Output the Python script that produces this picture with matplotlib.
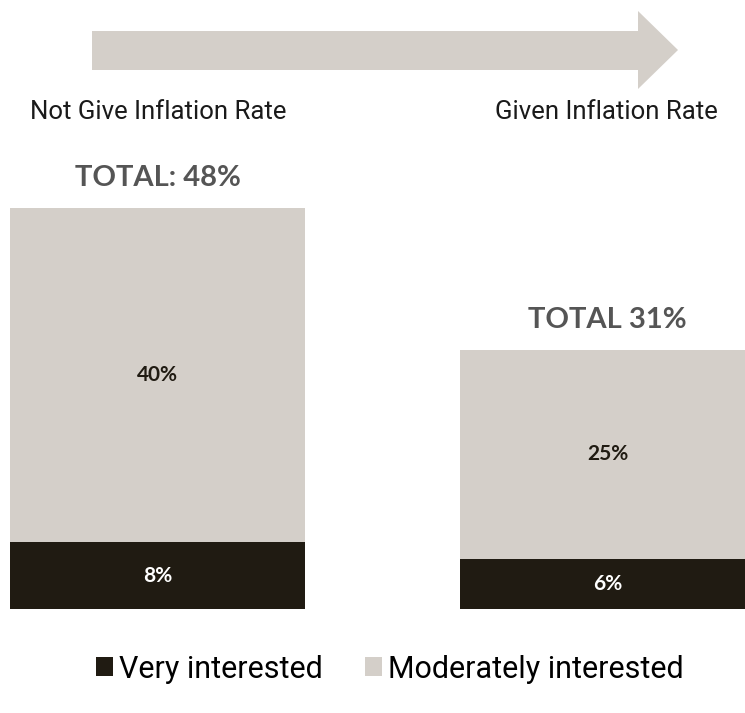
import matplotlib
matplotlib.use("Agg")
import matplotlib.pyplot as plt
from matplotlib.patches import Polygon

COND = "Roboto"

categories = ["Not Give Inflation Rate", "Given Inflation Rate"]
very = [8, 6]
moderately = [40, 25]
totals_labels = ["TOTAL: 48%", "TOTAL 31%"]
series_names = ["Very interested", "Moderately interested"]

DARK = "#201b12"
LIGHT = "#d4cfc9"
GRAY = "#555555"

W, H = 745, 713
fig = plt.figure(figsize=(W / 100, H / 100), dpi=100)

# bar axes: bottom at y=609px, top (48%) at y=208px
ax = fig.add_axes([0, (H - 609) / H, 1, (609 - 208) / H])
x = [0, 1]
width = 295 / 450
b1 = ax.bar(x, very, width=width, color=DARK, label=series_names[0])
b2 = ax.bar(x, moderately, width=width, bottom=very, color=LIGHT, label=series_names[1])
ax.set_xlim(-157.5 / 450, -157.5 / 450 + W / 450)
ax.set_ylim(0, 48)
ax.axis("off")

for i in x:
    ax.text(i, very[i] / 2, f"{very[i]}%", ha="center", va="center",
            color="white", fontsize=15, fontweight="bold", family="Lato")
    ax.text(i, very[i] + moderately[i] / 2, f"{moderately[i]}%", ha="center",
            va="center", color=DARK, fontsize=15, fontweight="bold", family="Lato")
    ax.text(i, very[i] + moderately[i] + 3.6, totals_labels[i], ha="center",
            va="center", color=GRAY, fontsize=21, family="Lato", fontweight="bold")

# arrow (figure pixel coords, y from top)
def fp(px, py):
    return (px / W, (H - py) / H)

pts = [fp(92, 31), fp(638, 31), fp(638, 11), fp(678, 50), fp(638, 89),
       fp(638, 70), fp(92, 70)]
fig.patches.append(Polygon(pts, closed=True, transform=fig.transFigure,
                           facecolor=LIGHT, edgecolor="none"))

fig.text(30 / W, (H - 112) / H, categories[0], ha="left", va="center",
         fontsize=18.5, family=COND, color="#1a1a1a")
fig.text(718 / W, (H - 112) / H, categories[1], ha="right", va="center",
         fontsize=18.5, family=COND, color="#1a1a1a")

fig.legend(handles=[b1, b2], labels=series_names, loc="center",
           bbox_to_anchor=(390 / W, (H - 669) / H), ncol=2, frameon=False,
           prop={"family": COND, "size": 22}, handlelength=0.55, handleheight=0.6,
           handletextpad=0.2, columnspacing=1.4)

fig.savefig("out.png", dpi=100)
